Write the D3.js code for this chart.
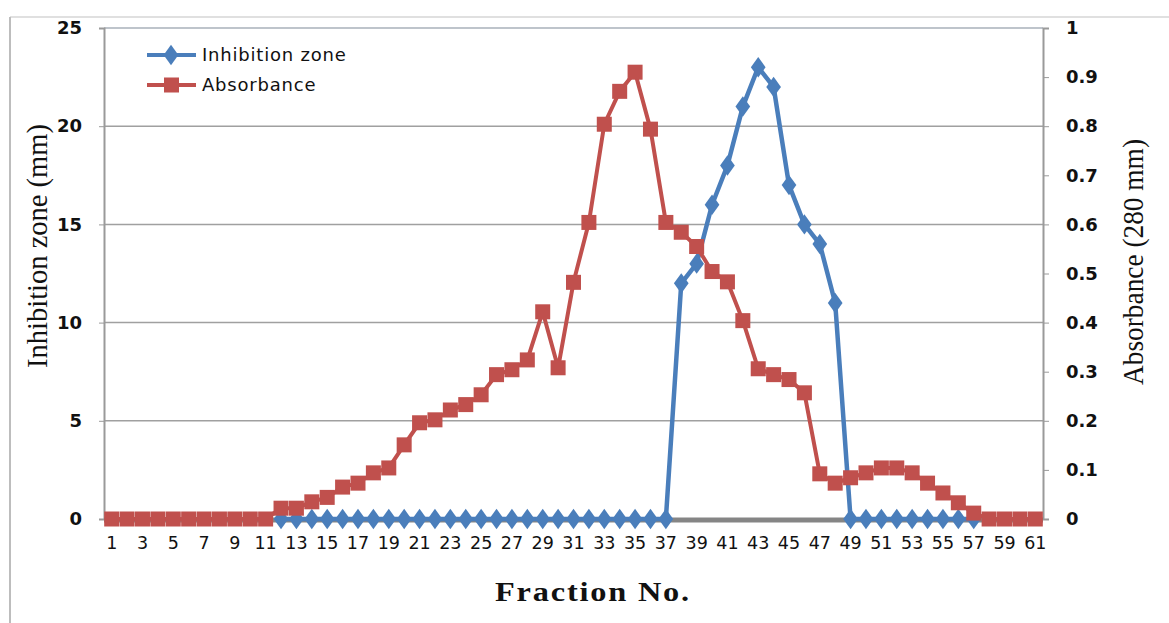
<!DOCTYPE html>
<html>
<head>
<meta charset="utf-8">
<script src="https://cdn.jsdelivr.net/npm/d3@7"></script>
<style>
  body { margin: 0; background: #fff; }
  svg { display: block; }
</style>
</head>
<body>
<script>
// chart data
var fractions = [1,2,3,4,5,6,7,8,9,10,11,12,13,14,15,16,17,18,19,20,21,22,23,24,25,26,27,28,29,30,
  31,32,33,34,35,36,37,38,39,40,41,42,43,44,45,46,47,48,49,50,51,52,53,54,55,56,57,58,59,60,61];

// inhibition zone (mm), left axis; null where the series is not plotted
var inhibition = [null,null,null,null,null,null,null,null,null,null,null,
  0,0,0,0,0,0,0,0,0,0,0,0,0,0,0,0,0,0,0,0,0,0,0,0,0,0,
  12,13,16,18,21,23,22,17,15,14,11,
  0,0,0,0,0,0,0,0,0,
  null,null,null,null];

// absorbance (280 nm), right axis
var absorbance = [0,0,0,0,0,0,0,0,0,0,0,
  0.022,0.022,0.035,0.044,0.065,0.073,0.094,0.104,0.151,0.196,0.202,0.222,0.233,0.253,
  0.294,0.304,0.324,0.422,0.308,0.482,0.604,0.804,0.871,0.91,0.794,0.604,0.584,0.555,
  0.504,0.483,0.404,0.306,0.294,0.284,0.257,0.092,0.073,0.084,0.094,0.104,0.104,0.094,
  0.073,0.053,0.033,0.012,0,0,0,0];

var leftTicks = [0,5,10,15,20,25];
var rightTicks = [0,0.1,0.2,0.3,0.4,0.5,0.6,0.7,0.8,0.9,1];
var xTickLabels = fractions.filter(function(d){ return d % 2 === 1; });

var seriesNames = ["Inhibition zone", "Absorbance"];
var blue = "#4a7ebb", red = "#c0504d";

// dimensions
var W = 1169, H = 623;
var margin = {top: 28, right: 126, bottom: 104, left: 104},
    width = W - margin.left - margin.right,
    height = H - margin.top - margin.bottom;

var svg = d3.select("body").append("svg")
    .attr("width", W)
    .attr("height", H);

// outer frame of the pasted figure
svg.append("line").attr("x1", 10).attr("x2", W).attr("y1", 17).attr("y2", 17)
  .attr("stroke", "#d6d6d6").attr("stroke-width", 1.5);
svg.append("line").attr("x1", 10).attr("x2", 10).attr("y1", 17).attr("y2", H)
  .attr("stroke", "#bdbdbd").attr("stroke-width", 2);

var g = svg.append("g")
    .attr("transform", "translate(" + margin.left + "," + margin.top + ")");

// scales
var x = d3.scaleBand().domain(fractions).range([0, width]);
var cx = function(d){ return x(d) + x.bandwidth() / 2; };
var yL = d3.scaleLinear().domain([0, 25]).range([height, 0]);
var yR = d3.scaleLinear().domain([0, 1]).range([height, 0]);

// gridlines
g.selectAll(".grid")
  .data(leftTicks.slice(1, -1))
  .enter().append("line")
  .attr("x1", 0).attr("x2", width)
  .attr("y1", function(d){ return yL(d); })
  .attr("y2", function(d){ return yL(d); })
  .attr("stroke", "#a0a0a0").attr("stroke-width", 1.5);

// plot area border (top)
g.append("line").attr("x1", 0).attr("x2", width).attr("y1", 0).attr("y2", 0)
  .attr("stroke", "#a9b1ba").attr("stroke-width", 1.5);

var tickFont = "'DejaVu Sans', Verdana, sans-serif";

// left axis
var axL = g.append("g")
  .call(d3.axisLeft(yL).tickValues(leftTicks).tickSize(5).tickPadding(17).tickFormat(d3.format("d")));
axL.select(".domain").attr("stroke", "#9a9a9a").attr("stroke-width", 2);
axL.selectAll(".tick line").attr("stroke", "#9a9a9a");
axL.selectAll("text")
  .style("font-family", tickFont)
  .style("font-size", "18px").style("font-weight", "bold").attr("fill", "#111");

// right axis
var axR = g.append("g")
  .attr("transform", "translate(" + width + ",0)")
  .call(d3.axisRight(yR).tickValues(rightTicks).tickSize(6).tickPadding(17)
    .tickFormat(function(d){ return d === 0 ? "0" : d === 1 ? "1" : d3.format(".1f")(d); }));
axR.select(".domain").attr("stroke", "#9a9a9a").attr("stroke-width", 2);
axR.selectAll(".tick line").attr("stroke", "#9a9a9a");
axR.selectAll("text")
  .style("font-family", tickFont)
  .style("font-size", "18px").style("font-weight", "bold").attr("fill", "#111");

// bottom axis (labels only, every other fraction)
var axB = g.append("g")
  .attr("transform", "translate(0," + height + ")")
  .call(d3.axisBottom(x).tickValues(xTickLabels).tickSize(0).tickPadding(18));
axB.select(".domain").remove();
axB.selectAll("text")
  .style("font-family", tickFont)
  .style("font-size", "17.5px").attr("fill", "#111");

// thick zero line
g.append("line").attr("x1", 0).attr("x2", width).attr("y1", height + 1).attr("y2", height + 1)
  .attr("stroke", "#858585").attr("stroke-width", 5);

// inhibition zone series
var blueData = fractions.map(function(f, i){ return {f: f, v: inhibition[i]}; });
var lineL = d3.line()
  .defined(function(d){ return d.v !== null; })
  .x(function(d){ return cx(d.f); })
  .y(function(d){ return yL(d.v); });
g.append("path").datum(blueData)
  .attr("d", lineL).attr("fill", "none")
  .attr("stroke", blue).attr("stroke-width", 4.5).attr("stroke-linejoin", "round");
var diamond = d3.symbol().type(d3.symbolDiamond).size(120);
g.selectAll(".dia")
  .data(blueData.filter(function(d){ return d.v !== null; }))
  .enter().append("path")
  .attr("d", diamond)
  .attr("transform", function(d){ return "translate(" + cx(d.f) + "," + yL(d.v) + ") scale(1.25,1)"; })
  .attr("fill", blue);

// absorbance series
var redData = fractions.map(function(f, i){ return {f: f, v: absorbance[i]}; });
var lineR = d3.line()
  .x(function(d){ return cx(d.f); })
  .y(function(d){ return yR(d.v); });
g.append("path").datum(redData)
  .attr("d", lineR).attr("fill", "none")
  .attr("stroke", red).attr("stroke-width", 4).attr("stroke-linejoin", "round");
g.selectAll(".sq")
  .data(redData)
  .enter().append("rect")
  .attr("x", function(d){ return cx(d.f) - 7.5; })
  .attr("y", function(d){ return yR(d.v) - 7.5; })
  .attr("width", 15).attr("height", 15)
  .attr("fill", red);

// legend
var legend = svg.append("g").attr("transform", "translate(147,55)");
var leg = legend.selectAll("g")
  .data(seriesNames)
  .enter().append("g")
  .attr("transform", function(d, i){ return "translate(0," + i * 30 + ")"; });
leg.append("line").attr("x1", 0).attr("x2", 49).attr("y1", 0).attr("y2", 0)
  .attr("stroke", function(d, i){ return i ? red : blue; }).attr("stroke-width", 4);
leg.filter(function(d, i){ return i === 0; }).append("path")
  .attr("d", diamond).attr("transform", "translate(24,0) scale(1.25,1)").attr("fill", blue);
leg.filter(function(d, i){ return i === 1; }).append("rect")
  .attr("x", 17).attr("y", -7.5).attr("width", 15).attr("height", 15).attr("fill", red);
leg.append("text")
  .attr("x", 55).attr("y", 0).attr("dy", "0.35em")
  .style("font-family", tickFont)
  .style("font-size", "18px").style("letter-spacing", "0.8px").attr("fill", "#111")
  .text(function(d){ return d; });

// axis titles
svg.append("text")
  .attr("transform", "translate(47,246) rotate(-90)")
  .attr("text-anchor", "middle")
  .attr("textLength", 244).attr("lengthAdjust", "spacingAndGlyphs")
  .style("font-family", "'Liberation Serif', 'Times New Roman', serif")
  .style("font-size", "29px").attr("fill", "#111")
  .text("Inhibition  zone (mm)");

svg.append("text")
  .attr("transform", "translate(1143,262) rotate(-90)")
  .attr("text-anchor", "middle")
  .attr("textLength", 246).attr("lengthAdjust", "spacingAndGlyphs")
  .style("font-family", "'Liberation Serif', 'Times New Roman', serif")
  .style("font-size", "29px").attr("fill", "#111")
  .text("Absorbance  (280 mm)");

svg.append("text")
  .attr("x", 593).attr("y", 601)
  .attr("text-anchor", "middle")
  .attr("textLength", 196).attr("lengthAdjust", "spacingAndGlyphs")
  .style("font-family", "'Liberation Serif', 'Times New Roman', serif")
  .style("font-size", "27px").style("font-weight", "bold")
  .style("letter-spacing", "1.5px")
  .attr("fill", "#111")
  .text("Fraction  No.");
</script>
</body>
</html>
